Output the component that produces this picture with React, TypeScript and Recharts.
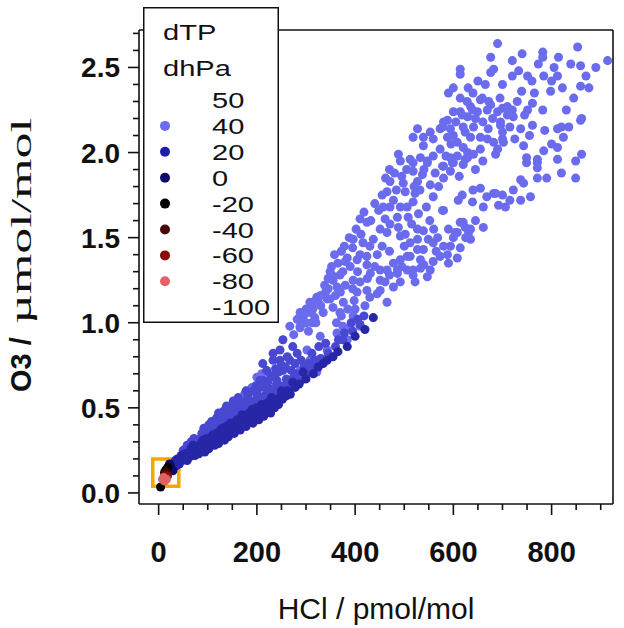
import React from 'react'
import { ScatterChart, Scatter, XAxis, YAxis, ZAxis, ReferenceArea, Legend } from 'recharts'

// HCl (pmol/mol) vs O3 (umol/mol), grouped by dTP colour class
const LIGHT: [number, number][] = [
  [410, 1.61], [424, 1.59], [396, 1.49], [416, 1.47], [437, 1.49], [451, 1.55], [471, 1.58], [486, 1.62], [506, 1.68], [471, 1.68],
  [492, 1.51], [512, 1.47], [527, 1.43], [539, 1.54], [384, 1.38], [404, 1.37], [424, 1.34], [451, 1.31], [349, 1.3], [369, 1.28],
  [396, 1.25], [363, 1.21], [322, 1.15], [343, 1.14], [308, 1.12], [288, 1.06], [314, 1.08], [335, 1.06], [355, 1.09], [376, 1.12],
  [267, 0.98], [288, 0.97],
  [492, 1.95], [518, 1.94], [547, 1.94], [578, 1.92], [598, 1.94], [620, 1.93], [518, 1.89], [537, 1.87], [563, 1.88], [594, 1.89],
  [471, 1.83], [498, 1.82], [527, 1.83], [553, 1.81], [465, 1.77], [502, 1.77], [522, 1.76], [559, 1.74], [478, 1.72], [518, 1.71],
  [457, 1.68], [492, 1.68], [529, 1.64], [578, 1.66], [461, 1.61], [488, 1.56], [527, 1.55], [465, 1.53], [502, 1.52], [527, 1.49],
  [549, 1.49], [559, 1.47], [539, 1.43],
  [614, 1.59], [624, 1.56], [604, 1.53], [631, 1.53], [635, 1.49], [594, 1.45], [614, 1.44], [588, 1.4], [573, 1.39], [608, 1.38],
  [559, 1.36], [590, 1.35], [533, 1.37], [512, 1.39], [492, 1.37], [478, 1.35], [506, 1.31], [533, 1.32], [553, 1.31], [465, 1.31],
  [486, 1.29], [518, 1.28], [547, 1.27], [461, 1.24], [492, 1.24], [522, 1.24], [451, 1.19], [478, 1.21],
  [655, 1.79], [682, 1.76], [692, 1.69], [661, 1.56], [639, 1.71], [618, 1.75], [610, 1.72], [661, 1.68], [706, 1.68], [737, 1.72],
  [757, 1.74], [722, 1.78], [737, 1.84], [743, 1.82], [771, 1.85], [849, 1.85], [620, 1.59], [635, 1.55], [608, 1.53],
  [690, 2.64], [676, 2.56], [682, 2.49], [676, 2.47], [614, 2.49], [614, 2.46], [590, 2.35], [614, 2.32], [635, 2.27], [655, 2.31],
  [614, 2.24], [629, 2.21], [649, 2.24], [669, 2.25], [690, 2.24], [710, 2.27], [696, 2.18], [580, 2.18], [573, 2.14], [594, 2.14],
  [553, 2.12], [527, 2.14], [518, 2.09], [539, 2.09], [559, 2.08], [588, 2.09], [608, 2.06], [635, 2.09], [655, 2.09], [669, 2.08],
  [682, 2.06], [686, 1.99], [655, 2.02], [620, 2.03], [608, 1.98], [629, 1.97], [594, 1.97], [573, 2.02], [539, 2.04], [533, 1.97],
  [512, 1.96], [488, 1.99], [559, 1.98], [547, 1.95],
  [853, 2.62], [782, 2.59], [782, 2.56], [814, 2.56], [720, 2.54], [773, 2.52], [839, 2.52], [859, 2.51], [914, 2.54], [733, 2.48],
  [751, 2.45], [784, 2.45], [812, 2.45], [800, 2.42], [739, 2.36], [765, 2.35], [798, 2.36], [822, 2.38], [859, 2.39], [876, 2.38],
  [761, 2.29], [700, 2.26], [720, 2.25], [710, 2.22], [722, 2.21], [751, 2.25], [782, 2.25], [861, 2.2], [696, 2.16], [737, 2.14],
  [761, 2.16], [786, 2.13], [812, 2.14], [820, 2.15], [835, 2.15], [824, 2.09], [702, 2.06], [743, 2.04], [784, 2.01], [812, 2.03],
  [749, 1.97], [749, 1.94], [771, 1.94], [771, 1.91], [812, 1.96], [849, 1.95], [861, 1.99], [771, 1.96],
  [659, 2.32], [676, 2.28], [600, 2.24], [618, 2.22], [639, 2.25], [588, 2.19], [578, 2.15], [624, 2.12], [641, 2.15], [671, 2.14],
  [700, 2.08], [629, 2.0], [641, 1.99], [580, 1.92], [600, 1.94], [624, 1.96], [686, 1.76], [580, 1.66], [859, 2.19],
  [410, 1.4], [424, 1.39], [353, 1.28], [431, 1.29], [451, 1.25], [486, 1.31], [506, 1.39], [518, 1.31], [465, 1.12], [424, 1.19],
  [404, 1.18], [349, 1.14], [308, 1.06], [369, 1.06], [396, 1.04], [410, 0.98], [288, 0.98], [329, 0.92], [363, 0.94], [384, 0.9],
  [302, 0.84], [343, 0.84], [308, 0.78], [288, 0.72], [322, 0.71],
  [300, 1.0], [318, 1.03], [330, 1.1], [340, 1.18], [360, 1.16], [375, 1.3], [390, 1.33], [405, 1.3], [430, 1.45], [445, 1.4],
  [380, 1.36], [365, 1.35], [355, 1.25], [320, 1.0], [362, 1.0], [375, 0.98], [390, 0.97], [400, 1.08], [420, 1.1], [430, 1.15],
  [445, 1.17], [398, 1.13], [385, 1.08], [372, 1.04],
  [160, 0.55], [175, 0.58], [190, 0.62], [200, 0.68], [185, 0.6], [210, 0.7], [150, 0.52],
  [275, 0.93], [282, 1.02], [295, 1.04], [305, 0.95], [312, 1.0], [325, 1.12], [338, 1.22], [345, 1.26], [352, 1.33], [358, 1.4],
  [372, 1.42], [378, 1.45], [388, 1.5], [395, 1.44], [402, 1.55], [412, 1.52], [418, 1.65], [432, 1.6], [440, 1.7], [448, 1.66],
  [455, 1.75], [462, 1.85], [470, 1.9], [480, 1.88], [484, 1.78], [495, 1.86], [505, 1.9], [508, 1.62], [515, 1.58], [520, 1.8],
  [532, 1.78], [540, 1.9], [545, 1.68], [552, 1.6], [560, 1.55], [568, 1.5], [570, 1.8], [580, 1.85], [585, 1.98], [595, 2.05],
  [600, 2.1], [605, 2.18], [620, 2.15], [628, 2.3], [640, 2.35], [645, 2.2], [660, 2.18], [665, 2.4], [672, 2.3], [680, 2.2],
  [695, 2.32], [700, 2.12], [715, 2.15], [725, 2.08], [730, 2.3], [745, 2.22], [755, 2.1], [690, 2.02], [660, 1.95], [645, 1.9],
  [612, 1.86], [500, 1.45], [470, 1.42], [455, 1.45], [440, 1.33], [425, 1.26], [410, 1.24], [395, 1.2], [380, 1.22], [370, 1.18],
  [345, 1.2], [330, 1.16], [315, 1.12], [300, 1.08], [290, 1.01], [470, 1.28], [495, 1.33], [540, 1.34], [565, 1.42], [580, 1.45],
  [600, 1.5], [625, 1.5], [645, 1.6], [590, 1.55], [640, 1.78], [668, 1.74], [700, 1.75], [715, 1.72], [790, 1.85], [820, 1.88],
  [800, 2.05], [830, 2.25], [845, 2.32], [870, 2.45], [890, 2.5], [805, 2.5], [760, 2.42], [740, 2.58], [700, 2.4], [720, 2.45],
  [650, 2.42], [630, 2.38], [600, 2.38],
]

const MID: [number, number][] = [
  [60, 0.26], [75, 0.29], [85, 0.32], [95, 0.34], [105, 0.37], [115, 0.39], [125, 0.42], [135, 0.44], [140, 0.47], [150, 0.45],
  [155, 0.49], [160, 0.52], [165, 0.47], [175, 0.51], [180, 0.55], [185, 0.5], [195, 0.54], [200, 0.58], [205, 0.53], [215, 0.57],
  [220, 0.61], [225, 0.55], [235, 0.6], [240, 0.64], [245, 0.59], [255, 0.63], [260, 0.67], [265, 0.62], [275, 0.68], [280, 0.7],
  [290, 0.66], [300, 0.7], [310, 0.73], [320, 0.76], [330, 0.79], [345, 0.82], [360, 0.86], [375, 0.9], [395, 0.95], [410, 0.99],
  [100, 0.33], [120, 0.37], [145, 0.42], [170, 0.48], [190, 0.52], [210, 0.56], [230, 0.58], [250, 0.62], [270, 0.65], [220, 0.53],
  [240, 0.57], [130, 0.4], [110, 0.35], [80, 0.3],
  [273, 0.86], [253, 0.9], [233, 0.82], [212, 0.76], [247, 0.78], [220, 0.72], [241, 0.66], [227, 0.61], [261, 0.61], [220, 0.55],
  [247, 0.56], [206, 0.66], [253, 0.72], [233, 0.78], [267, 0.78], [247, 0.84],
  [50, 0.25], [58, 0.28], [66, 0.3], [72, 0.32], [88, 0.35], [92, 0.38], [102, 0.4], [108, 0.42], [118, 0.44], [122, 0.47],
  [132, 0.48], [138, 0.51], [148, 0.5], [152, 0.54], [162, 0.56], [168, 0.53], [178, 0.6], [182, 0.57], [192, 0.6], [198, 0.63],
  [208, 0.62], [214, 0.66], [222, 0.65], [228, 0.69], [236, 0.68], [238, 0.73], [244, 0.71], [250, 0.75], [258, 0.74], [262, 0.8],
  [270, 0.72], [278, 0.76], [282, 0.82], [290, 0.78], [296, 0.74], [305, 0.76], [312, 0.82], [318, 0.78], [326, 0.86], [340, 0.88],
  [366, 0.9], [378, 0.94], [392, 1.0], [405, 1.02], [418, 1.04],
]

const DARK: [number, number][] = [
  [28, 0.15], [32, 0.17], [36, 0.16], [40, 0.18], [44, 0.2], [48, 0.19], [52, 0.21], [56, 0.2], [60, 0.22], [38, 0.2],
  [46, 0.22], [54, 0.23], [64, 0.24], [68, 0.22], [72, 0.25], [76, 0.24], [80, 0.26], [84, 0.25], [88, 0.27], [92, 0.26],
  [96, 0.28], [100, 0.3], [104, 0.28], [108, 0.31], [112, 0.3], [116, 0.32], [120, 0.31], [124, 0.33], [128, 0.35], [132, 0.33],
  [136, 0.36], [140, 0.35], [144, 0.37], [148, 0.39], [70, 0.28], [90, 0.31], [110, 0.34], [130, 0.38], [150, 0.41],
  [152, 0.37], [158, 0.4], [164, 0.39], [170, 0.42], [176, 0.41], [182, 0.44], [188, 0.43], [194, 0.46], [200, 0.45], [206, 0.48],
  [212, 0.47], [218, 0.5], [224, 0.49], [230, 0.52], [238, 0.54], [246, 0.56], [254, 0.58], [262, 0.6], [273, 0.65], [294, 0.71],
  [343, 0.78], [384, 0.86], [437, 1.03], [170, 0.46], [190, 0.49], [210, 0.52], [230, 0.56], [250, 0.6],
  [34, 0.19], [42, 0.17], [50, 0.22], [58, 0.19], [62, 0.21], [66, 0.26], [74, 0.22], [78, 0.27], [82, 0.23], [86, 0.29],
  [94, 0.24], [98, 0.32], [102, 0.26], [106, 0.29], [114, 0.28], [118, 0.35], [122, 0.29], [126, 0.37], [134, 0.31], [138, 0.39],
  [142, 0.33], [146, 0.41], [154, 0.35], [160, 0.43], [166, 0.37], [172, 0.45], [178, 0.39], [184, 0.47], [192, 0.41], [198, 0.5],
  [204, 0.43], [214, 0.45], [222, 0.53], [228, 0.47], [236, 0.5], [244, 0.52], [252, 0.55], [260, 0.57], [268, 0.58], [278, 0.62],
  [286, 0.64], [300, 0.67], [315, 0.7], [325, 0.74], [335, 0.76], [355, 0.8], [365, 0.83], [400, 0.92], [420, 0.96],
]

const NAVY: [number, number][] = [[24, 0.16], [26, 0.14], [22, 0.17], [29, 0.13], [20, 0.15]]
const BLACK: [number, number][] = [[16, 0.14], [19, 0.15], [14, 0.13], [12, 0.12], [4, 0.035]]
const DARKRED: [number, number][] = [[12, 0.1], [15, 0.12]]
const RED: [number, number][] = [[14, 0.1], [18, 0.1]]
const PINK: [number, number][] = [[8, 0.08], [12, 0.07], [16, 0.08], [10, 0.09]]

const LEGEND_LEVELS = ['50', '40', '20', '0', '-20', '-40', '-60', '-80', '-100']
const LEGEND_COLORS = ['#6c6cf0', '#1e1eaa', '#0b0b6e', '#000000', '#4a0606', '#8c0b0b', '#e06262']

const X_TICKS = [0, 50, 100, 150, 200, 250, 300, 350, 400, 450, 500, 550, 600, 650, 700, 750, 800, 850, 900]
const Y_TICKS = [0, 0.1, 0.2, 0.3, 0.4, 0.5, 0.6, 0.7, 0.8, 0.9, 1.0, 1.1, 1.2, 1.3, 1.4, 1.5, 1.6, 1.7, 1.8, 1.9, 2.0, 2.1, 2.2, 2.3, 2.4, 2.5, 2.6, 2.7]
const X_DOMAIN: [number, number] = [-40, 925]
const Y_DOMAIN: [number, number] = [-0.065, 2.72]
const HIGHLIGHT = { x1: -12, x2: 41, y1: 0.04, y2: 0.2 }

const INK = '#111'
const SANS = '"Liberation Sans", Arial, sans-serif'
const SERIF = '"Liberation Serif", "DejaVu Serif", serif'

const toPoints = (arr: [number, number][]) => arr.map(([x, y]) => ({ x, y }))
const isMajorX = (v: number) => v % 200 === 0
const isMajorY = (v: number) => Math.abs(v * 2 - Math.round(v * 2)) < 1e-6

// rough advance widths (em) for the legend font, used to stretch the legend text sideways
const EM: Record<string, number> = { '-': 0.333, d: 0.556, h: 0.556, T: 0.611, P: 0.667, a: 0.556 }
const textWidth = (s: string, size: number) => s.split('').reduce((w, c) => w + (EM[c] ?? 0.556), 0) * size

function BottomTick({ x, y, payload }: any) {
  const major = isMajorX(payload.value)
  return (
    <g>
      <line x1={x} x2={x} y1={y} y2={y + (major ? 11 : 6)} stroke={INK} strokeWidth={1.6} />
      {major && (
        <text x={x} y={y + 58} textAnchor="middle" fontSize={29} fontWeight="bold" fontFamily={SANS} fill={INK}>
          {payload.value}
        </text>
      )}
    </g>
  )
}

function TopTick({ x, y, payload }: any) {
  const major = isMajorX(payload.value)
  return <line x1={x} x2={x} y1={y} y2={y - (major ? 11 : 6)} stroke={INK} strokeWidth={1.6} />
}

function LeftTick({ x, y, payload }: any) {
  const major = isMajorY(payload.value)
  return (
    <g>
      <line x1={x} x2={x - (major ? 11 : 6)} y1={y} y2={y} stroke={INK} strokeWidth={1.6} />
      {major && (
        <text x={x - 19} y={y + 10} textAnchor="end" fontSize={28} fontWeight="bold" fontFamily={SANS} fill={INK}>
          {payload.value.toFixed(1)}
        </text>
      )}
    </g>
  )
}

function RightTick({ x, y, payload }: any) {
  const major = isMajorY(payload.value)
  return <line x1={x} x2={x + (major ? 11 : 6)} y1={y} y2={y} stroke={INK} strokeWidth={1.6} />
}

function YTitle() {
  return (
    <g transform="translate(31, 392) rotate(-90)">
      <text x={0} y={0} fontSize={29} fontWeight="bold" fontFamily={SANS} fill={INK}>
        O3 /
      </text>
      <text x={68} y={0} fontSize={30} fontFamily={SERIF} fill={INK} textLength={206} lengthAdjust="spacingAndGlyphs">
        µmol/mol
      </text>
    </g>
  )
}

function XTitle({ viewBox }: any) {
  return (
    <text x={viewBox.x + viewBox.width / 2} y={viewBox.y + 115} textAnchor="middle" fontSize={30} fontFamily={SANS} fill={INK}>
      HCl / pmol/mol
    </text>
  )
}

function StretchText({ x, y, children }: { x: number; y: number; children: string }) {
  const size = 22
  return (
    <text x={x} y={y} fontSize={size} fontFamily={SANS} fill={INK} textLength={textWidth(children, size) * 1.32} lengthAdjust="spacingAndGlyphs">
      {children}
    </text>
  )
}

function LegendBox() {
  const row0 = 93
  const step = 25.9
  return (
    <svg width={136} height={316} style={{ display: 'block' }}>
      <rect x={0.75} y={0.75} width={134.5} height={314.5} fill="#fff" stroke={INK} strokeWidth={1.5} />
      <StretchText x={20} y={33}>dTP</StretchText>
      <StretchText x={20} y={69}>dhPa</StretchText>
      {LEGEND_LEVELS.map((l, i) => (
        <StretchText key={l} x={69} y={row0 + i * step + 8}>
          {l}
        </StretchText>
      ))}
      {LEGEND_COLORS.map((c, i) => (
        <circle key={c} cx={22} cy={row0 + (i + 1) * step} r={5} fill={c} />
      ))}
    </svg>
  )
}

const SERIES = [
  { name: 'light', data: LIGHT, color: '#6b6bee' },
  { name: 'mid', data: MID, color: '#4848d2' },
  { name: 'dark', data: DARK, color: '#2626a6' },
  { name: 'navy', data: NAVY, color: '#0b0b6e' },
  { name: 'black', data: BLACK, color: '#000000' },
  { name: 'darkred', data: DARKRED, color: '#4a0606' },
  { name: 'red', data: RED, color: '#8c0b0b' },
  { name: 'pink', data: PINK, color: '#e06262' },
]

export default function App() {
  return (
    <div style={{ position: 'absolute', left: 0, top: 0, background: '#fff' }}>
      <ScatterChart width={624} height={628} margin={{ top: 0, right: 0, bottom: 0, left: 0 }}>
        <XAxis
          xAxisId="top"
          orientation="top"
          type="number"
          dataKey="x"
          domain={X_DOMAIN}
          ticks={X_TICKS}
          interval={0}
          height={30}
          tickSize={0}
          tickMargin={0}
          tickLine={false}
          tick={<TopTick />}
          axisLine={{ stroke: INK, strokeWidth: 1.6 }}
        />
        <XAxis
          xAxisId="bottom"
          orientation="bottom"
          type="number"
          dataKey="x"
          domain={X_DOMAIN}
          ticks={X_TICKS}
          interval={0}
          height={124}
          tickSize={0}
          tickMargin={0}
          tickLine={false}
          tick={<BottomTick />}
          axisLine={{ stroke: INK, strokeWidth: 1.6 }}
          label={<XTitle />}
        />
        <YAxis
          yAxisId="left"
          orientation="left"
          type="number"
          dataKey="y"
          domain={Y_DOMAIN}
          ticks={Y_TICKS}
          interval={0}
          width={139}
          tickSize={0}
          tickMargin={0}
          tickLine={false}
          tick={<LeftTick />}
          axisLine={{ stroke: INK, strokeWidth: 1.6 }}
          label={<YTitle />}
        />
        <YAxis
          yAxisId="right"
          orientation="right"
          type="number"
          dataKey="y"
          domain={Y_DOMAIN}
          ticks={Y_TICKS}
          interval={0}
          width={11}
          tickSize={0}
          tickMargin={0}
          tickLine={false}
          tick={<RightTick />}
          axisLine={{ stroke: INK, strokeWidth: 1.6 }}
        />
        <ZAxis range={[42, 42]} />
        {SERIES.map((s) => (
          <Scatter
            key={s.name}
            name={s.name}
            xAxisId="bottom"
            yAxisId="left"
            data={toPoints(s.data)}
            fill={s.color}
            isAnimationActive={false}
          />
        ))}
        <ReferenceArea
          xAxisId="bottom"
          yAxisId="left"
          x1={HIGHLIGHT.x1}
          x2={HIGHLIGHT.x2}
          y1={HIGHLIGHT.y1}
          y2={HIGHLIGHT.y2}
          stroke="#f5a800"
          strokeWidth={3.5}
          fill="none"
          fillOpacity={0}
        />
        <Legend
          layout="vertical"
          align="center"
          verticalAlign="middle"
          wrapperStyle={{ left: 143, top: 7, width: 136, height: 316 }}
          content={() => <LegendBox />}
        />
      </ScatterChart>
    </div>
  )
}
